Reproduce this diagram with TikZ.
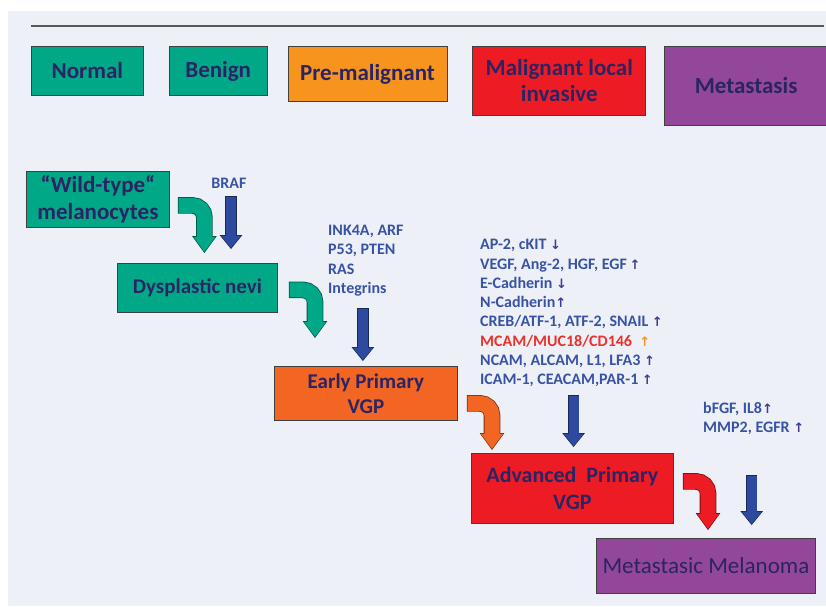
\documentclass[tikz,border=0pt]{standalone}
\usepackage{fontspec}
\setmainfont{Carlito}
\newfontfamily\arrfont{DejaVu Sans}
\usepackage{xcolor}
\usetikzlibrary{calc, positioning, arrows.meta}

\definecolor{bgpanel}{HTML}{EDF0F7}
\definecolor{stagegreen}{HTML}{00A887}
\definecolor{stageorange}{HTML}{F7941D}
\definecolor{vgporange}{HTML}{F26522}
\definecolor{stagered}{HTML}{ED1C24}
\definecolor{stagepurple}{HTML}{92479A}
\definecolor{navytext}{HTML}{2B2464}
\definecolor{genetext}{HTML}{3953A4}
\definecolor{genered}{HTML}{E8322B}
\definecolor{arrowblue}{HTML}{2E4A9E}
\definecolor{tickblue}{HTML}{3E3C94}

\newcommand{\geneup}[1][tickblue]{{\arrfont\color{#1}\fontsize{13}{13}\selectfont ↑}}
\newcommand{\genedown}{{\arrfont\color{tickblue}\fontsize{13}{13}\selectfont ↓}}

\begin{document}
\begin{tikzpicture}[
  x=1pt, y=-1pt,
  stage/.style={draw=black!75, line width=0.8pt, fill=#1, text=navytext, align=center, inner sep=0pt,
    font=\fontsize{23}{26}\selectfont\bfseries},
  genes/.style={text=genetext, align=left, inner sep=0pt, font=\fontsize{16}{19.3}\selectfont\bfseries},
  downarr/.style={line width=10pt, draw=arrowblue, shorten <=0.8pt, shorten >=1.2pt,
    -{Triangle[width=20pt,length=12pt,line width=0pt]},
    preaction={draw=arrowblue!55!black, line width=11.6pt, shorten <=0pt, shorten >=0pt,
      -{Triangle[width=22.5pt,length=13.8pt,line width=0pt]}}},
  bendarr/.style={line width=15pt, draw=#1, rounded corners=12pt, shorten <=0.8pt, shorten >=1.2pt,
    -{Triangle[width=22pt,length=15pt,line width=0pt]},
    preaction={draw=#1!50!black, line width=16.6pt, shorten <=0pt, shorten >=0pt,
      -{Triangle[width=24.5pt,length=16.8pt,line width=0pt]}}}
]
\useasboundingbox (0,0) rectangle (826,606);
\fill[white] (0,0) rectangle (826,606);
\fill[bgpanel] (8,11) rectangle (826,606);
\draw[black!65, line width=1.3pt] (31,26) -- (824,26);

% stages
\node[stage=stagegreen, minimum width=112pt, minimum height=49pt, anchor=north west] (normal) at (31,46) {Normal};
\node[stage=stagegreen, minimum width=98pt, minimum height=49pt, right=25pt of normal.north east, anchor=north west] (benign) {Benign};
\node[stage=stageorange, minimum width=159pt, minimum height=55pt, right=20pt of benign.north east, anchor=north west] (premal) {Pre-malignant};
\node[stage=stagered, minimum width=173pt, minimum height=69pt, right=25pt of premal.north east, anchor=north west] (malig) {Malignant local\\invasive};
\node[stage=stagepurple, minimum width=163pt, minimum height=79pt, right=18pt of malig.north east, anchor=north west] (metas) {Metastasis};

% progression
\node[stage=stagegreen, minimum width=143pt, minimum height=56pt, anchor=north west,
  font=\fontsize{23}{27}\selectfont\bfseries] (wild) at (26,171) {“Wild-type“\\melanocytes};
\node[stage=stagegreen, minimum width=160pt, minimum height=49pt, anchor=north west,
  font=\fontsize{21}{25}\selectfont\bfseries] (dysnevi) at (117,263) {Dysplastic nevi};
\node[stage=vgporange, minimum width=183pt, minimum height=54pt, anchor=north west,
  font=\fontsize{21}{25}\selectfont\bfseries] (earlyvgp) at (274,366) {Early Primary\\VGP};
\node[stage=stagered, minimum width=202pt, minimum height=70pt, anchor=north west,
  font=\fontsize{22}{27}\selectfont\bfseries] (advvgp) at (471,453) {Advanced\ \ Primary\\VGP};
\node[stage=stagepurple, minimum width=219pt, minimum height=55pt, anchor=north west,
  font=\fontsize{23}{26}\selectfont] (metamel) at (596,538) {Metastasic Melanoma};

% genes
\node[genes] (braf) at (229,183) {BRAF};
\node[genes, anchor=north west] (tumsup) at (328,225) {INK4A, ARF\\P53, PTEN\\RAS\\Integrins};
\node[genes, anchor=north west] (invgenes) at (480,239) {AP-2, cKIT \genedown\\VEGF, Ang-2, HGF, EGF\,\geneup\\E-Cadherin \genedown\\N-Cadherin\geneup\\CREB/ATF-1, ATF-2, SNAIL \geneup\\\textcolor{genered}{MCAM/MUC18/CD146}\ \ \geneup[stageorange]\\NCAM, ALCAM, L1, LFA3 \geneup\\ICAM-1, CEACAM,PAR-1 \geneup};
\node[genes, anchor=north west] (angio) at (703,402) {bFGF, IL8\geneup\\MMP2, EGFR \geneup};

\draw[bendarr=stagegreen] ($(wild.east)+(8,6)$) -| ($(dysnevi.north)+(7,-10)$);
\draw[bendarr=stagegreen] ($(dysnevi.east)+(11,2)$) -| ($(earlyvgp.north west)+(41,-28)$);
\draw[bendarr=vgporange] ($(earlyvgp.east)+(9,10)$) -| ($(advvgp.north west)+(21,-3)$);
\draw[bendarr=stagered] ($(advvgp.east)+(9,-7)$) -| ($(metamel.north west)+(112,-8)$);

\draw[downarr] ($(braf.south)+(2,8)$) -- ($(braf.south |- dysnevi.north)+(2,-14)$);
\draw[downarr] ($(tumsup.south)+(-3,12)$) -- ($(tumsup.south |- earlyvgp.north)+(-3,-5)$);
\draw[downarr] ($(invgenes.south)+(2,8)$) -- ($(invgenes.south |- advvgp.north)+(2,-6)$);
\draw[downarr] ($(angio.south)+(-2,40)$) -- ($(angio.south |- metamel.north)+(-2,-13)$);

\end{tikzpicture}
\end{document}
